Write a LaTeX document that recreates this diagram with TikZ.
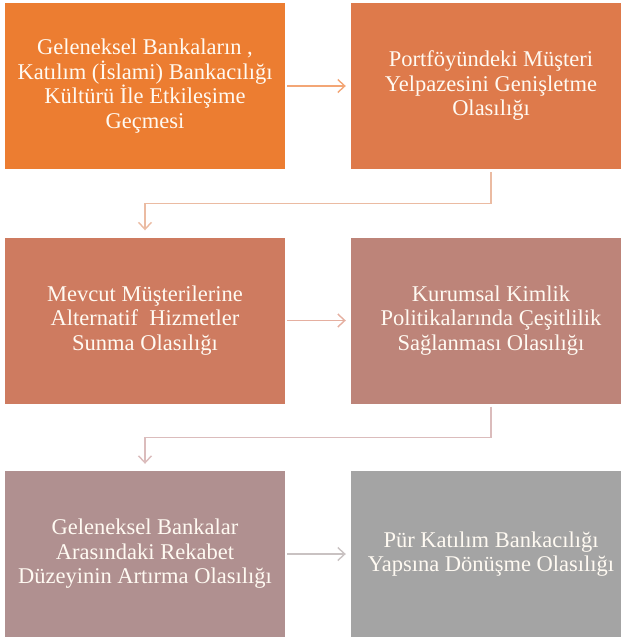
\documentclass[tikz,border=0pt]{standalone}
\usepackage{fontspec}
\setmainfont{Liberation Serif}
\usetikzlibrary{arrows.meta}
\definecolor{cA}{HTML}{EC7D31}
\definecolor{cB}{HTML}{DE7A4B}
\definecolor{cC}{HTML}{CE7B60}
\definecolor{cD}{HTML}{BD8479}
\definecolor{cE}{HTML}{B09090}
\definecolor{cF}{HTML}{A4A4A4}
\definecolor{lA}{HTML}{F3A676}
\definecolor{lB}{HTML}{EBBBA2}
\definecolor{lC}{HTML}{E5AFA0}
\definecolor{lD}{HTML}{DBBCBC}
\definecolor{lE}{HTML}{C9C2C2}
\definecolor{txt}{HTML}{FFFAF2}
\tikzset{
  box/.style={minimum width=280pt, minimum height=166pt, inner sep=0pt,
    text=txt, align=center, font=\fontsize{22.5}{24.5}\selectfont},
  conn/.style={line width=1.4pt, -{Straight Barb[length=7pt,width=13pt,line width=1.4pt]}}
}
\begin{document}
\begin{tikzpicture}[x=1pt,y=1pt]
\useasboundingbox (0,0) rectangle (621,-638);
\clip (0,0) rectangle (621,-638);
\node[box, fill=cA] (b1) at (145,-86) {Geleneksel Bankaların ,\\Katılım (İslami) Bankacılığı\\Kültürü İle Etkileşime\\Geçmesi};
\node[box, fill=cB] (b2) at (491,-86) {Portföyündeki Müşteri\\Yelpazesini Genişletme\\Olasılığı};
\node[box, fill=cC] (b3) at (145,-320.5) {Mevcut Müşterilerine\\Alternatif\ \ Hizmetler\\Sunma Olasılığı};
\node[box, fill=cD] (b4) at (491,-320.5) {Kurumsal Kimlik\\Politikalarında Çeşitlilik\\Sağlanması Olasılığı};
\node[box, fill=cE] (b5) at (145,-554) {Geleneksel Bankalar\\Arasındaki Rekabet\\Düzeyinin Artırma Olasılığı};
\node[box, fill=cF] (b6) at (491,-554) {Pür Katılım Bankacılığı\\Yapsına Dönüşme Olasılığı};
\draw[conn, lA, shorten <=2pt, shorten >=5pt] (b1.east) -- (b2.west);
\draw[conn, lC, shorten <=2pt, shorten >=5pt] (b3.east) -- (b4.west);
\draw[conn, lE, shorten <=2pt, shorten >=5pt] (b5.east) -- (b6.west);
\draw[conn, lB] ([yshift=-3pt]b2.south) -- ++(0,-31) -| ([yshift=7pt]b3.north);
\draw[conn, lD] ([yshift=-3pt]b4.south) -- ++(0,-31) -| ([yshift=7pt]b5.north);
\end{tikzpicture}
\end{document}
